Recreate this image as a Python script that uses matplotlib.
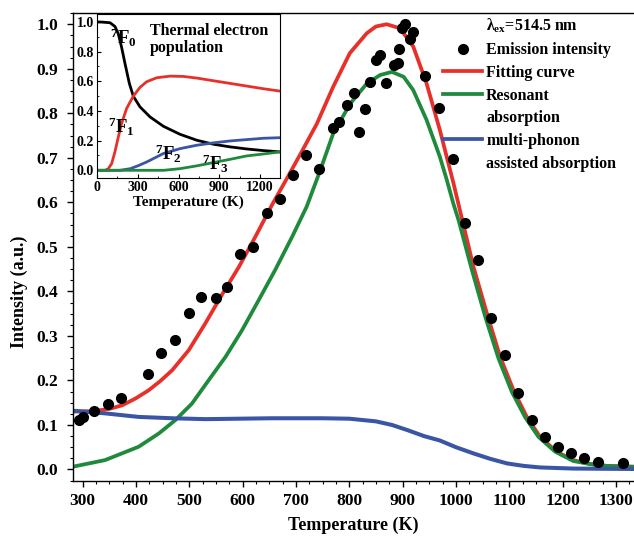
import matplotlib
matplotlib.use('Agg')
import matplotlib.pyplot as plt
from matplotlib.lines import Line2D
from matplotlib.ticker import MultipleLocator, FormatStrFormatter

plt.rcParams['font.family'] = ['Liberation Serif', 'DejaVu Serif']
plt.rcParams['font.weight'] = 'bold'
plt.rcParams['mathtext.fontset'] = 'custom'
plt.rcParams['mathtext.rm'] = 'Liberation Serif'
plt.rcParams['mathtext.bf'] = 'Liberation Serif:bold'
plt.rcParams['mathtext.it'] = 'Liberation Serif:italic'

# emission intensity (measured points)
emis_T = [293, 300, 321, 347, 372, 422, 446, 473, 499, 521, 551, 571, 596, 620,
          646, 670, 694, 719, 744, 769, 780, 795, 809, 819, 830, 839, 850, 858,
          869, 883, 891, 894, 899, 905, 914, 920, 942, 969, 994, 1017, 1042,
          1066, 1092, 1116, 1142, 1167, 1191, 1216, 1241, 1266, 1314]
emis_I = [0.112, 0.118, 0.132, 0.148, 0.160, 0.214, 0.262, 0.291, 0.352, 0.388,
          0.384, 0.409, 0.485, 0.499, 0.575, 0.607, 0.661, 0.706, 0.676, 0.766,
          0.781, 0.819, 0.845, 0.759, 0.809, 0.871, 0.920, 0.931, 0.869, 0.909,
          0.912, 0.944, 0.991, 1.001, 0.966, 0.983, 0.884, 0.813, 0.697, 0.554,
          0.470, 0.341, 0.257, 0.172, 0.112, 0.073, 0.051, 0.036, 0.026, 0.017,
          0.015]

# fitting curve
fit_T = [281, 320, 350, 374, 400, 424, 446, 468, 499, 530, 561, 593, 624, 655,
         686, 710, 739, 770, 801, 833, 850, 870, 895, 920, 945, 970, 995, 1008,
         1033, 1058, 1083, 1108, 1133, 1158, 1189, 1220, 1252, 1283, 1335]
fit_I = [0.130, 0.131, 0.136, 0.144, 0.160, 0.178, 0.199, 0.223, 0.268, 0.328,
         0.392, 0.455, 0.523, 0.594, 0.660, 0.712, 0.776, 0.860, 0.935, 0.980,
         0.995, 1.000, 0.991, 0.950, 0.867, 0.762, 0.645, 0.580, 0.455, 0.351,
         0.253, 0.178, 0.118, 0.073, 0.040, 0.021, 0.012, 0.008, 0.006]

# resonant absorption
res_T = [281, 342, 405, 443, 474, 505, 536, 568, 599, 630, 661, 693, 720, 745,
         770, 802, 833, 858, 880, 902, 920, 945, 970, 983, 995, 1005, 1030, 1055,
         1080, 1105, 1130, 1155, 1186, 1220, 1252, 1283, 1335]
res_I = [0.006, 0.021, 0.051, 0.081, 0.111, 0.148, 0.200, 0.253, 0.313, 0.380,
         0.448, 0.523, 0.590, 0.670, 0.755, 0.822, 0.867, 0.886, 0.893, 0.882,
         0.852, 0.785, 0.702, 0.650, 0.598, 0.560, 0.448, 0.343, 0.249, 0.174,
         0.117, 0.073, 0.040, 0.019, 0.012, 0.008, 0.006]

# multi-phonon assisted absorption
mp_T = [281, 342, 405, 468, 530, 593, 655, 749, 800, 850, 880, 910, 940, 970,
        1000, 1033, 1064, 1096, 1127, 1158, 1220, 1335]
mp_I = [0.132, 0.126, 0.118, 0.115, 0.113, 0.114, 0.115, 0.115, 0.114, 0.108,
        0.100, 0.088, 0.075, 0.065, 0.050, 0.036, 0.024, 0.0135, 0.008, 0.0045,
        0.002, 0.001]

# inset: thermal electron population
f0_T = [0, 27, 96, 132, 157, 181, 206, 238, 267, 316, 390, 488, 610, 733, 855,
        978, 1100, 1223, 1346]
f0_P = [1.0, 1.0, 0.995, 0.97, 0.92, 0.83, 0.72, 0.586, 0.5, 0.428, 0.36, 0.297,
        0.243, 0.203, 0.176, 0.158, 0.144, 0.133, 0.124]
f1_T = [0, 59, 83, 108, 132, 157, 181, 218, 267, 316, 365, 439, 537, 635, 733,
        855, 978, 1100, 1223, 1346]
f1_P = [0.0, 0.0, 0.01, 0.045, 0.124, 0.225, 0.315, 0.417, 0.5, 0.559, 0.597,
        0.624, 0.635, 0.633, 0.622, 0.604, 0.586, 0.568, 0.55, 0.534]
f2_T = [0, 169, 245, 300, 365, 488, 610, 733, 855, 978, 1100, 1223, 1346]
f2_P = [0.0, 0.0, 0.011, 0.03, 0.056, 0.113, 0.146, 0.169, 0.185, 0.198, 0.207,
        0.216, 0.22]
f3_T = [0, 490, 610, 733, 855, 978, 1100, 1223, 1346]
f3_P = [0.0, 0.0, 0.011, 0.03, 0.052, 0.074, 0.097, 0.11, 0.124]

red = '#e8302a'
green = '#1f8a3c'
blue = '#3b55a5'

fig = plt.figure(figsize=(6.34, 5.42), dpi=100)
ax = fig.add_axes([0.1144, 0.1125, 0.8856, 0.8641])

ax.plot(fit_T, fit_I, color=red, lw=2.7, zorder=2)
ax.plot(res_T, res_I, color=green, lw=2.7, zorder=2)
ax.plot(mp_T, mp_I, color=blue, lw=2.9, zorder=2)
ax.plot(emis_T, emis_I, 'o', color='black', ms=7, zorder=3)

ax.set_xlim(281, 1334)
ax.set_ylim(-0.026, 1.026)
ax.xaxis.set_major_locator(MultipleLocator(100))
ax.xaxis.set_minor_locator(MultipleLocator(25))
ax.yaxis.set_major_locator(MultipleLocator(0.1))
ax.yaxis.set_minor_locator(MultipleLocator(0.025))
ax.yaxis.set_major_formatter(FormatStrFormatter('%.1f'))
ax.tick_params(which='major', direction='out', length=4.5, width=1.0,
               labelsize=12.5)
ax.tick_params(which='minor', direction='out', length=2.5, width=0.8)
ax.tick_params(axis='x', which='major', pad=4)
ax.tick_params(axis='y', which='major', pad=6)
ax.spines['right'].set_visible(False)
for s in ['left', 'bottom', 'top']:
    ax.spines[s].set_linewidth(1.0)

ax.set_xlabel('Temperature (K)', fontsize=13, fontweight='bold', labelpad=6)
ax.set_ylabel('Intensity (a.u.)', fontsize=13, fontweight='bold')
ax.yaxis.set_label_coords(-0.079, 0.405)

blank = Line2D([], [], linestyle='none')
handles = [blank,
           Line2D([], [], marker='o', color='black', linestyle='none', ms=7),
           Line2D([], [], color=red, lw=2.7),
           Line2D([], [], color=green, lw=2.7),
           blank,
           Line2D([], [], color=blue, lw=2.7),
           blank]
labels = ['λ$_{\\mathbf{ex}}$=514.5 nm', 'Emission intensity', 'Fitting curve',
          'Resonant', 'absorption', 'multi-phonon', 'assisted absorption']
ax.legend(handles, labels, loc='upper left',
          bbox_to_anchor=(443 / 634, 1 - 17 / 542),
          bbox_transform=fig.transFigure, frameon=False,
          handlelength=2.45, handletextpad=0.25, labelspacing=0.42,
          borderpad=0, borderaxespad=0,
          prop={'family': 'Liberation Serif', 'weight': 'bold', 'size': 11.5})

# inset
axi = fig.add_axes([0.1525, 0.671, 0.2891, 0.3032])
axi.plot(f0_T, f0_P, color='black', lw=2.0)
axi.plot(f1_T, f1_P, color=red, lw=2.0)
axi.plot(f2_T, f2_P, color=blue, lw=2.0)
axi.plot(f3_T, f3_P, color=green, lw=2.0)
axi.set_xlim(-2, 1345)
axi.set_ylim(-0.054, 1.054)
axi.xaxis.set_major_locator(MultipleLocator(300))
axi.xaxis.set_minor_locator(MultipleLocator(150))
axi.yaxis.set_major_locator(MultipleLocator(0.2))
axi.yaxis.set_minor_locator(MultipleLocator(0.1))
axi.yaxis.set_major_formatter(FormatStrFormatter('%.1f'))
axi.tick_params(which='major', direction='in', length=3, width=0.8,
                labelsize=10, pad=2)
axi.tick_params(which='minor', direction='in', length=1.5, width=0.6)
axi.set_xlabel('Temperature (K)', fontsize=11, fontweight='bold', labelpad=1)
axi.text(390, 0.995, 'Thermal electron\npopulation', fontsize=11.5,
         fontweight='bold', va='top', ha='left', linespacing=1.1)
axi.text(193, 0.89, '$^{7}\\mathbf{F}_{0}$', fontsize=13.5, ha='center', va='center')
axi.text(181, 0.29, '$^{7}\\mathbf{F}_{1}$', fontsize=13.5, ha='center', va='center')
axi.text(524, 0.108, '$^{7}\\mathbf{F}_{2}$', fontsize=13.5, ha='center', va='center')
axi.text(868, 0.045, '$^{7}\\mathbf{F}_{3}$', fontsize=13.5, ha='center', va='center')

fig.savefig('out.png', dpi=100)
